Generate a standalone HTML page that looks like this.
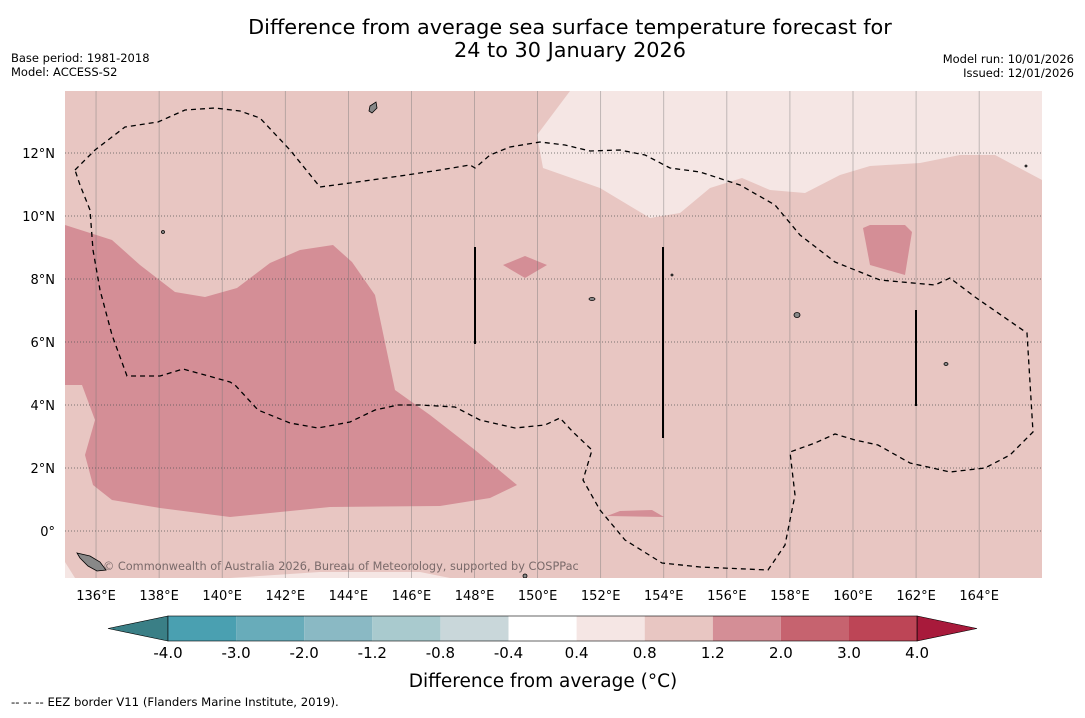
<!DOCTYPE html>
<html><head><meta charset="utf-8"><style>
body{margin:0;background:#fff;width:1085px;height:713px;overflow:hidden;font-family:"Liberation Sans",sans-serif;}
svg text{font-family:"DejaVu Sans","Liberation Sans",sans-serif;}
</style></head><body>
<svg id="chart" width="1085" height="713" xmlns="http://www.w3.org/2000/svg">
<text x="570" y="34" font-size="20.8" text-anchor="middle">Difference from average sea surface temperature forecast for</text>
<text x="570" y="57" font-size="20.8" text-anchor="middle">24 to 30 January 2026</text>
<text x="11" y="62" font-size="11.5">Base period: 1981-2018</text>
<text x="11" y="76" font-size="11.5">Model: ACCESS-S2</text>
<text x="1074" y="63" font-size="11.5" text-anchor="end">Model run: 10/01/2026</text>
<text x="1074" y="77" font-size="11.5" text-anchor="end">Issued: 12/01/2026</text>
<defs><clipPath id="mc"><rect x="65" y="91" width="977" height="487"/></clipPath></defs>
<g clip-path="url(#mc)">
<rect x="65" y="91" width="977" height="487" fill="#e8c6c2"/>
<path d="M570,91 L537,135 L543,168 L600,188 L650,218 L680,213 L710,188 L742,178 L770,190 L805,193 L840,175 L870,166 L920,163 L960,155 L995,155 L1042,180 L1042,91Z" fill="#f5e6e4"/>
<path d="M65,225 L112,240 L140,265 L175,292 L205,297 L237,288 L270,263 L300,250 L333,245 L352,262 L375,295 L395,390 L430,415 L475,450 L517,485 L490,498 L440,506 L330,507 L230,517 L160,508 L112,500 L93,485 L85,455 L95,420 L82,385 L65,385Z" fill="#d48e96"/>
<path d="M503,265 L525,256 L547,265 L525,278Z" fill="#d48e96"/>
<path d="M863,228 L870,225 L905,225 L912,232 L905,275 L870,265Z" fill="#d48e96"/>
<path d="M607,516 L620,511 L652,510 L664,517Z" fill="#d48e96"/>
<path d="M65,562 L75,578 L65,578Z M230,578 L320,572 L420,572 L450,578Z" fill="#f5e6e4"/>
<g id="grid"></g>
<path d="M75,170 L95,150 L125,127 L158,122 L185,110 L215,108 L240,111 L260,118 L290,150 L320,187 L350,183 L400,176 L440,170 L470,165 L475,168 L490,155 L510,147 L540,142 L565,145 L590,151 L620,150 L645,155 L670,168 L700,172 L740,185 L775,205 L800,235 L835,262 L880,280 L935,285 L950,278 L975,297 L1027,333 L1033,432 L1010,455 L985,468 L950,472 L910,463 L878,445 L855,440 L835,434 L815,443 L790,452 L795,495 L785,545 L768,570 L700,567 L662,563 L625,540 L600,510 L583,480 L592,450 L573,432 L560,418 L545,425 L515,428 L480,420 L455,407 L420,405 L398,405 L375,410 L350,422 L318,428 L290,423 L258,410 L235,385 L230,382 L205,375 L183,369 L160,376 L127,376 L112,335 L100,290 L93,250 L90,210 L80,185 Z" fill="none" stroke="#000" stroke-width="1.3" stroke-dasharray="5,4"/>
<line x1="475" y1="247" x2="475" y2="344" stroke="#000" stroke-width="2"/>
<line x1="663" y1="247" x2="663" y2="438" stroke="#000" stroke-width="2"/>
<line x1="916" y1="310" x2="916" y2="406" stroke="#000" stroke-width="2"/>
<g fill="#888" stroke="#000" stroke-width="0.8">
<path d="M370,106 L376,102 L377,108 L372,113 L369,111Z"/>
<path d="M77,553 L90,556 L100,562 L106,570 L97,571 L88,566 L80,558Z"/>
<ellipse cx="797" cy="315" rx="3" ry="2.5"/><ellipse cx="946" cy="364" rx="2" ry="1.5"/>
<ellipse cx="163" cy="232" rx="1.5" ry="1.5"/><ellipse cx="592" cy="299" rx="3" ry="1.5"/>
<ellipse cx="672" cy="275" rx="1" ry="1"/><ellipse cx="525" cy="576" rx="2" ry="2"/>
<ellipse cx="1026" cy="166" rx="1" ry="1"/>
</g>
<text x="103" y="570" font-size="11.3" fill="#7a6a6a">© Commonwealth of Australia 2026, Bureau of Meteorology, supported by COSPPac</text>
</g>
<g id="axes"></g>
<g id="cbar"></g>
<text x="543" y="687" font-size="18.5" text-anchor="middle">Difference from average (°C)</text>
<text x="11" y="706" font-size="11.7">-- -- -- EEZ border V11 (Flanders Marine Institute, 2019).</text>
</svg>
<script>
const lonTicks=[136,138,140,142,144,146,148,150,152,154,156,158,160,162,164];
const latTicks=[0,2,4,6,8,10,12];
const cbLevels=["-4.0","-3.0","-2.0","-1.2","-0.8","-0.4","0.4","0.8","1.2","2.0","3.0","4.0"];
const cbColors=["#4aa0b1","#68acba","#8ab9c4","#a9cace","#c9d7da","#ffffff","#f5e6e4","#e8c6c2","#d48e96","#c6636f","#bd4556"];
const NS="http://www.w3.org/2000/svg";
function xLon(l){return 64.5+(l-135)*31.54;}
function yLat(l){return 531-l*31.5;}
function mk(t,a,p){const e=document.createElementNS(NS,t);for(const k in a)e.setAttribute(k,a[k]);p.appendChild(e);return e;}
const grid=document.getElementById('grid'),axes=document.getElementById('axes'),cb=document.getElementById('cbar');
lonTicks.forEach(l=>{
 const ln=mk('line',{x1:xLon(l),x2:xLon(l),y1:91,y2:578,stroke:'#777','stroke-width':0.7,'stroke-opacity':0.6},grid);
 
 
 const t=mk('text',{x:xLon(l),y:600,'font-size':13,'text-anchor':'middle'},axes);t.textContent=l+'°E';
 
 
});
latTicks.forEach(l=>{
 const ln=mk('line',{x1:65,x2:1042,y1:yLat(l),y2:yLat(l),stroke:'#555','stroke-width':0.8,'stroke-dasharray':'1,2'},grid);
 
 
 const t=mk('text',{x:55,y:yLat(l)+5,'font-size':13,'text-anchor':'end'},axes);t.textContent=l===0?'0°':l+'°N';
 
 
});
const cx0=168,cw=68.1,cy=616,ch=25;
const la=mk('polygon',{points:`108,${cy+ch/2} ${cx0},${cy} ${cx0},${cy+ch}`,fill:'#3a7f86',stroke:'#000','stroke-width':0.6},cb);


cbColors.forEach((c,i)=>{
 const r=mk('rect',{x:cx0+i*cw,y:cy,width:cw,height:ch,fill:c},cb);
 
 
});
const xe=cx0+cbColors.length*cw;
const ra=mk('polygon',{points:`${xe},${cy} ${xe},${cy+ch} 977,${cy+ch/2}`,fill:'#a81a3b',stroke:'#000','stroke-width':0.6},cb);


const fr=mk('rect',{x:cx0,y:cy,width:xe-cx0,height:ch,fill:'none',stroke:'#000','stroke-width':0.6},cb);


cbLevels.forEach((v,i)=>{
 const t=mk('text',{x:cx0+i*cw,y:658,'font-size':15,'text-anchor':'middle'},cb);t.textContent=v;
 
 
});
</script>
</body></html>
